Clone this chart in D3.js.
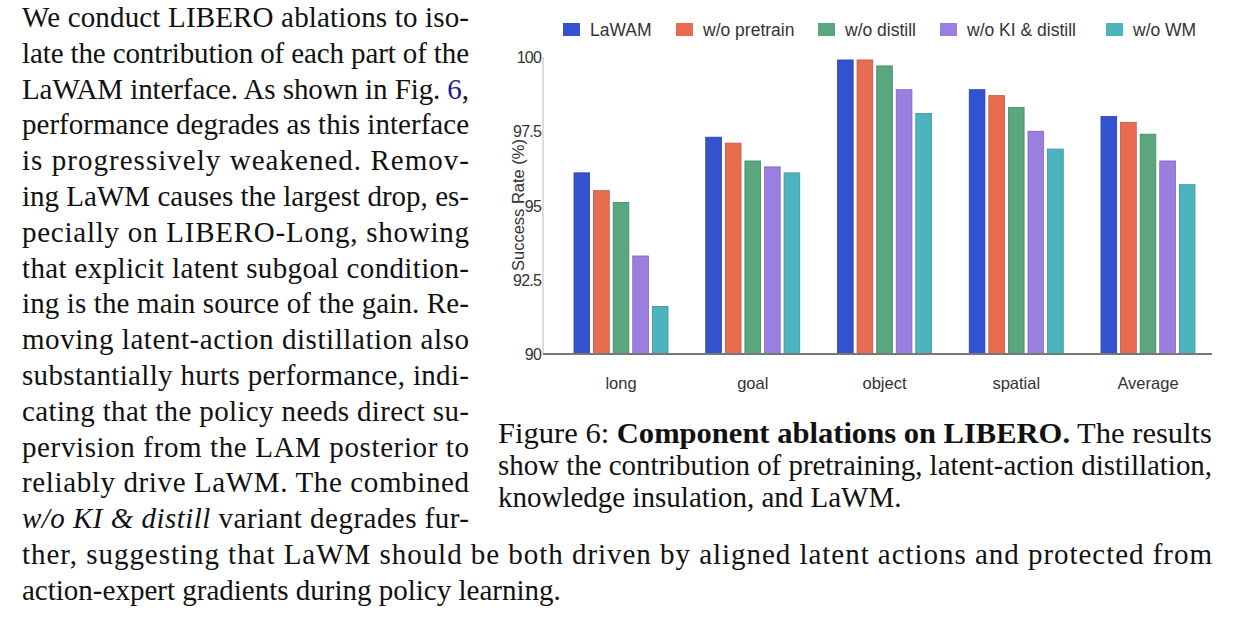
<!DOCTYPE html>
<html><head><meta charset="utf-8">
<script src="https://cdn.jsdelivr.net/npm/d3@7"></script>
<style>body{margin:0;background:#fff}</style></head>
<body><svg id="c" width="1240" height="629"></svg>
<script>
const categories = ["long","goal","object","spatial","Average"];
const seriesNames = ["LaWAM","w/o pretrain","w/o distill","w/o KI & distill","w/o WM"];
const LaWAM       = [96.1, 97.3, 99.9, 98.9, 98.0];
const woPretrain  = [95.5, 97.1, 99.9, 98.7, 97.8];
const woDistill   = [95.1, 96.5, 99.7, 98.3, 97.4];
const woKIDistill = [93.3, 96.3, 98.9, 97.5, 96.5];
const woWM        = [91.6, 96.1, 98.1, 96.9, 95.7];
const yTicks = [90, 92.5, 95, 97.5, 100];
const colors = ["#3352d0","#e86d50","#5aa67d","#9b7fe0","#4db3bd"];
const series = [LaWAM, woPretrain, woDistill, woKIDistill, woWM];

const svg = d3.select("#c");
const serif = "'Liberation Serif','DejaVu Serif',serif";
const FS = 29;
const leftLines = [
 "We conduct LIBERO ablations to iso-",
 "late the contribution of each part of the",
 "LaWAM interface.  As shown in Fig. @6@,",
 "performance degrades as this interface",
 "is progressively weakened.  Remov-",
 "ing LaWM causes the largest drop, es-",
 "pecially on LIBERO-Long, showing",
 "that explicit latent subgoal condition-",
 "ing is the main source of the gain. Re-",
 "moving latent-action distillation also",
 "substantially hurts performance, indi-",
 "cating that the policy needs direct su-",
 "pervision from the LAM posterior to",
 "reliably drive LaWM. The combined",
 "*w/o KI & distill* variant degrades fur-"
];
leftLines.forEach((l,i)=>{
  const t = svg.append("text").attr("x",22).attr("y",27+i*35.8)
    .attr("font-family",serif).attr("font-size",FS).attr("fill","#111")
    .attr("textLength",447).attr("lengthAdjust","spacing");
  l.split(/(@[^@]*@|\*[^*]*\*)/).forEach(p=>{
    if(!p) return;
    if(p[0]==="@") t.append("tspan").attr("fill","#1a1a8c").text(p.slice(1,-1));
    else if(p[0]==="*") t.append("tspan").attr("font-style","italic").text(p.slice(1,-1));
    else t.append("tspan").text(p);
  });
});
svg.append("text").attr("x",22).attr("y",27+15*35.8).attr("font-family",serif).attr("font-size",FS)
  .attr("fill","#111").attr("textLength",1190).attr("lengthAdjust","spacing")
  .text("ther, suggesting that LaWM should be both driven by aligned latent actions and protected from");
svg.append("text").attr("x",22).attr("y",27+16*35.8).attr("font-family",serif).attr("font-size",FS)
  .attr("fill","#111").text("action-expert gradients during policy learning.");

const cap = svg.append("text").attr("x",498).attr("y",443).attr("font-family",serif).attr("font-size",FS)
  .attr("fill","#111").attr("textLength",714).attr("lengthAdjust","spacingAndGlyphs");
cap.append("tspan").text("Figure 6: ");
cap.append("tspan").attr("font-weight","bold").text("Component ablations on LIBERO.");
cap.append("tspan").text(" The results");
svg.append("text").attr("x",498).attr("y",475).attr("font-family",serif).attr("font-size",FS)
  .attr("fill","#111").attr("textLength",714).attr("lengthAdjust","spacingAndGlyphs")
  .text("show the contribution of pretraining, latent-action distillation,");
svg.append("text").attr("x",498).attr("y",507).attr("font-family",serif).attr("font-size",FS)
  .attr("fill","#111").text("knowledge insulation, and LaWM.");

const sans = "'Liberation Sans',Arial,sans-serif";
const x0 = 543, x1 = 1212, yTop = 57, yBot = 354;
const y = d3.scaleLinear().domain([90,100]).range([yBot,yTop]);
const xc = d3.scalePoint().domain(categories).range([621,1148]);
const xs = d3.scaleBand().domain(d3.range(5)).range([-47,47]).paddingInner(0.2);

svg.append("line").attr("x1",x0).attr("x2",x0).attr("y1",yTop).attr("y2",yBot).attr("stroke","#bbb").attr("stroke-width",1);
yTicks.forEach(v=>{
  svg.append("text").attr("x",541).attr("y",y(v)+6).attr("text-anchor","end")
    .attr("font-family",sans).attr("font-size",16).attr("fill","#333").attr("letter-spacing","-0.8").text(v);
});
svg.append("text").attr("transform","translate(524,205) rotate(-90)").attr("text-anchor","middle")
  .attr("font-family",sans).attr("font-size",16.5).attr("fill","#333").text("Success Rate (%)");

series.forEach((s,si)=>{
  svg.selectAll(null).data(s).enter().append("rect")
    .attr("x",(d,i)=>xc(categories[i])+xs(si)).attr("width",xs.bandwidth())
    .attr("y",d=>y(d)).attr("height",d=>yBot-y(d))
    .attr("fill",colors[si]).attr("stroke",d3.color(colors[si]).darker(0.6)).attr("stroke-width",0.8);
});
svg.append("line").attr("x1",x0).attr("x2",x1).attr("y1",yBot).attr("y2",yBot).attr("stroke","#777").attr("stroke-width",2);
categories.forEach(c=>{
  svg.append("text").attr("x",xc(c)).attr("y",389).attr("text-anchor","middle")
    .attr("font-family",sans).attr("font-size",16.5).attr("fill","#333").text(c);
});
const legX = [563,676,818,940,1106];
seriesNames.forEach((n,i)=>{
  svg.append("rect").attr("x",legX[i]).attr("y",23).attr("width",17).attr("height",13).attr("fill",colors[i]);
  svg.append("text").attr("x",legX[i]+27).attr("y",36).attr("font-family",sans).attr("font-size",17.5)
    .attr("fill","#333").text(n);
});
</script></body></html>
